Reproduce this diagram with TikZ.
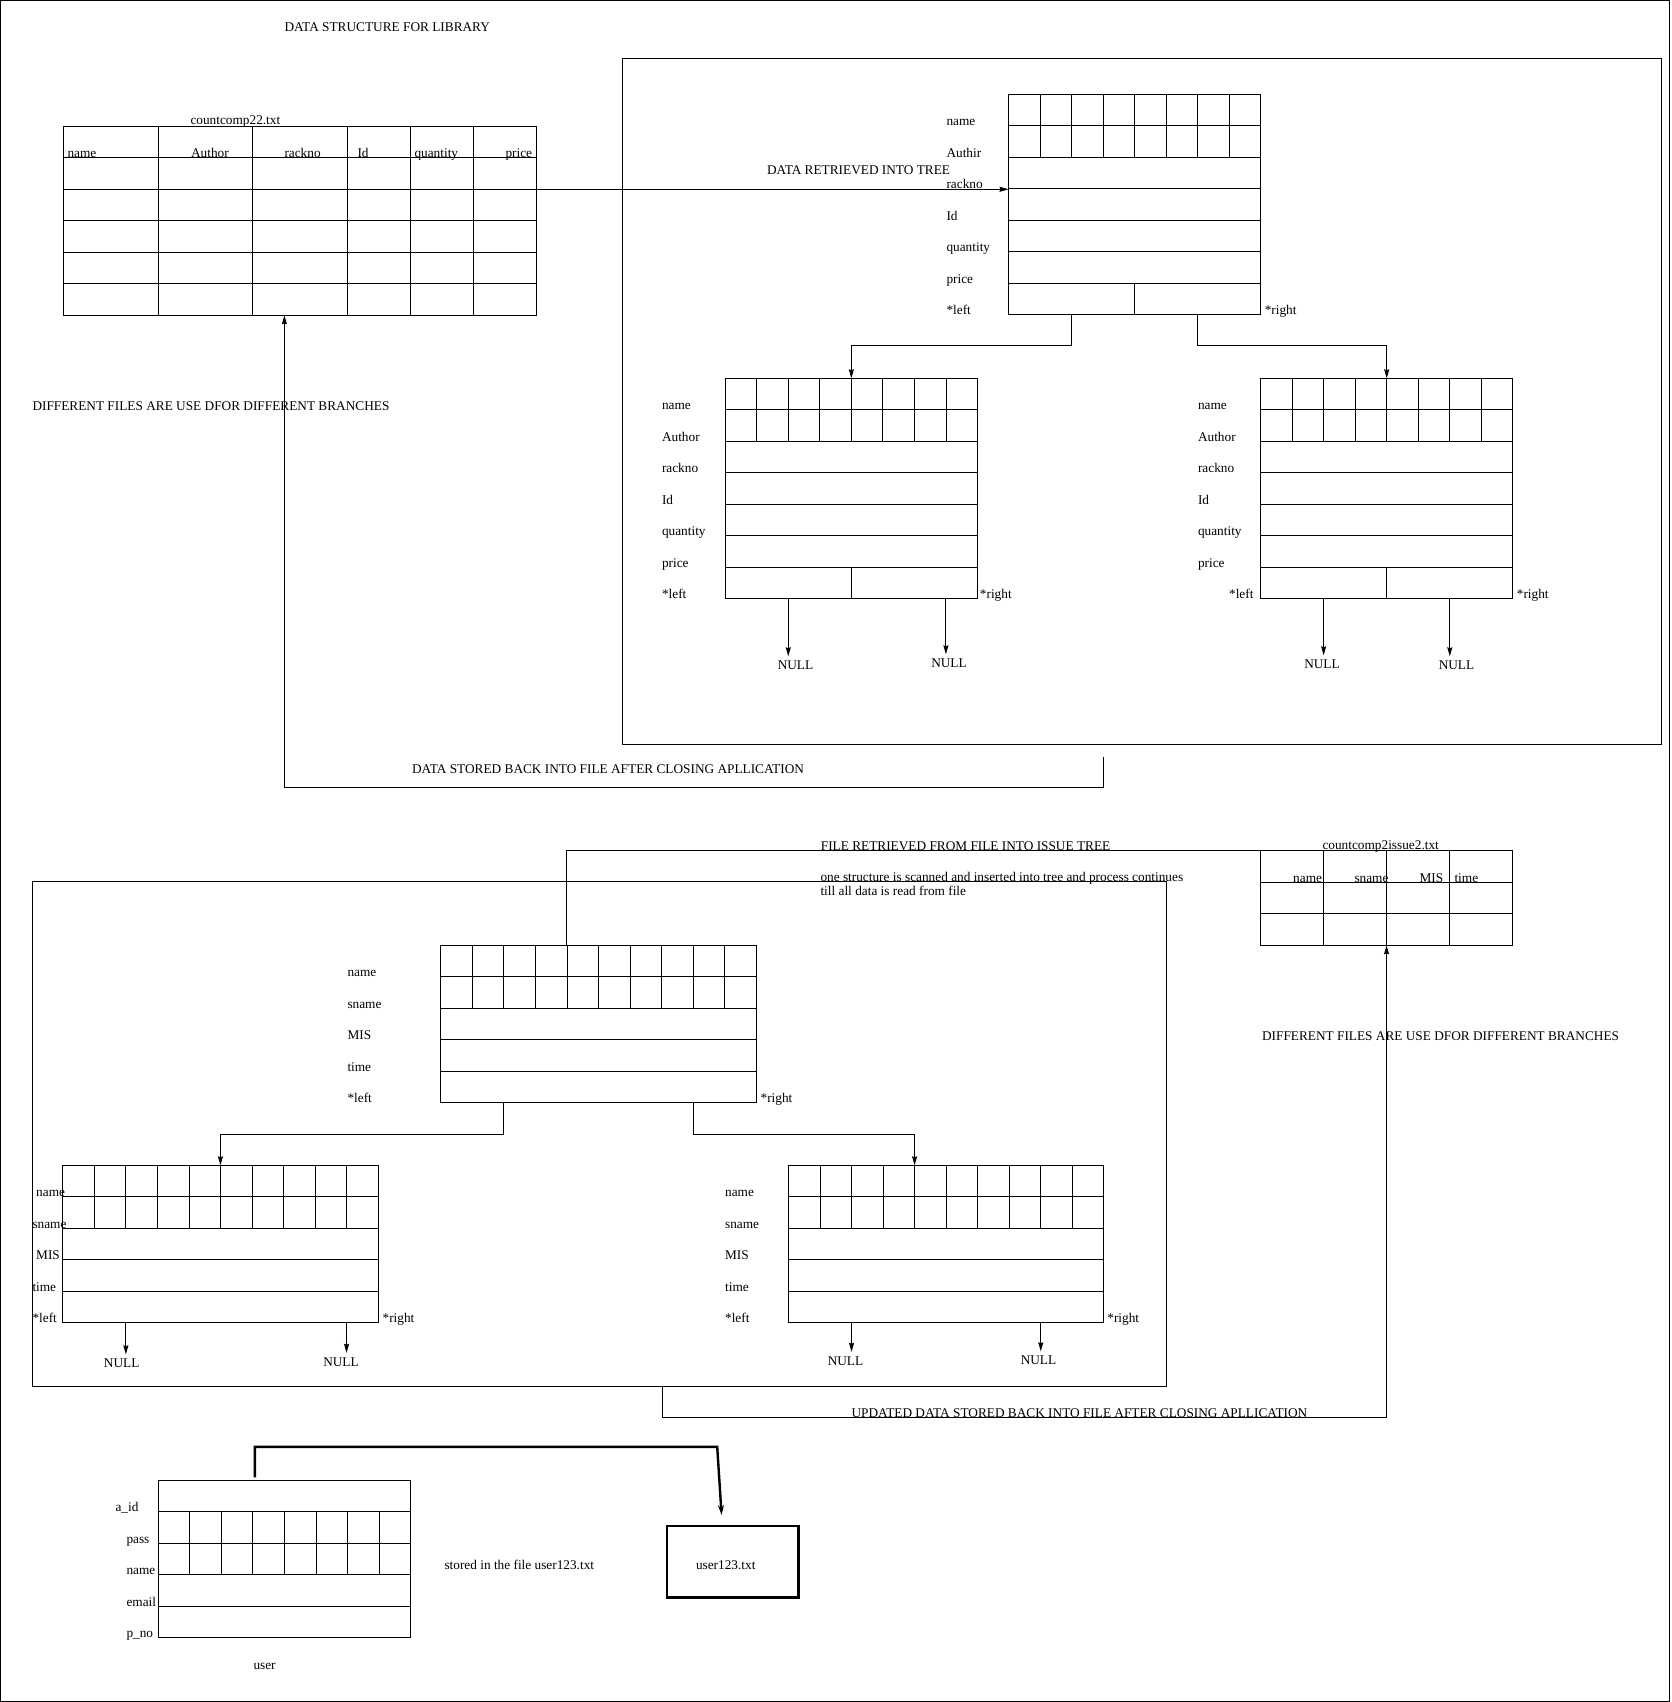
\documentclass[tikz,border=0pt]{standalone}
\usepackage{fontspec}
\setmainfont{Liberation Serif}
\usetikzlibrary{arrows.meta,calc}

% cell size of the record grids
\def\rowh{31.5}
\def\colw{31.53}

% inner lines of a record: #1 node, #2 columns, #3 rows,
% #4 rows above the cell rows, #5 number of cell rows, #6 split last row (1/0)
\newcommand{\recgrid}[6]{%
  \pgfmathtruncatemacro{\rlast}{#3-1}%
  \foreach \rowi in {1,...,\rlast}{\draw ([yshift=-\rowi*\rowh]#1.north west) -- ([yshift=-\rowi*\rowh]#1.north east);}%
  \pgfmathtruncatemacro{\clast}{#2-1}%
  \foreach \coli in {1,...,\clast}{\draw[line width=0.8pt] ([xshift=\coli*\colw,yshift=-#4*\rowh]#1.north west) -- ++(0,#5*\rowh);}%
  \ifnum#6=1 \draw ($(#1.south west)!.5!(#1.south east)$) -- ++(0,-\rowh);\fi
}

% a NULL pointer below a record: #1 record, #2 fraction along its bottom, #3 name, #4,#5 text position
\newcommand{\nullptr}[5]{%
  \node[nul] (#3) at (#4,#5) {NULL};
  \path ($(#1.south west)!#2!(#1.south east)$) coordinate (#3top);
  \draw[arr] (#3top) -- (#3top |- #3.north);
}

\begin{document}
\begin{tikzpicture}[x=1pt,y=-1pt,line width=1pt,
  every node/.style={font={\fontsize{13.3}{15}\selectfont}},
  lbl/.style={anchor=base west,inner sep=0pt},
  nul/.style={anchor=base,inner sep=4pt},
  recbox/.style={draw,anchor=north west,inner sep=0pt,outer sep=0pt},
  link/.style={line width=0.9pt},
  arr/.style={link,-{Stealth[length=9pt,width=5pt,inset=1pt]}},
  thickarr/.style={line width=2.4pt,-{Stealth[length=10pt,width=6pt]}},
]
\useasboundingbox (0,0) rectangle (1671,1702);
\draw (0.6,0.6) rectangle (1669.5,1701);

% ---------------- library part ----------------
\node[lbl] (title) at (284,31.5) {DATA STRUCTURE FOR LIBRARY};

% file table countcomp22.txt
\node[recbox,minimum width=473.4,minimum height=189] (t1) at (63.1,126.3) {};
\foreach \yy in {31.5,63,94.5,126,157.5}
  \draw ([yshift=-\yy]t1.north west) -- ([yshift=-\yy]t1.north east);
\foreach \xx in {95.7,189.5,284.4,347.1,410.3}
  \draw ([xshift=\xx]t1.north west) -- ([xshift=\xx]t1.south west);
\node[lbl] (t1name) at (190,124.5) {countcomp22.txt};
\foreach \lab/\xx in {name/67,Author/190.6,rackno/284,Id/357,quantity/414,price/505}
  \node[lbl] at (\xx,157.3) {\lab};

\node[lbl] (diff1) at (32,410) {DIFFERENT FILES ARE USE DFOR DIFFERENT BRANCHES};

% tree frame
\node[recbox,minimum width=1039.3,minimum height=685.5] (upframe) at (622,58.5) {};

% root record
\node[recbox,minimum width=8*\colw,minimum height=7*\rowh] (root) at (1008.5,94.3) {};
\recgrid{root}{8}{7}{0}{2}{1}
\foreach \lab [count=\i] in {name,Authir,rackno,Id,quantity,price,*left}
  \node[lbl] at ([xshift=-62.5,yshift=-\i*\rowh]root.north west) {\lab};
\node[lbl] at ([xshift=3.5]root.south east) {*right};
\node[lbl] (retr) at (766.5,174) {DATA RETRIEVED INTO TREE};

% left child
\node[recbox,minimum width=8*\colw,minimum height=7*\rowh] (lc) at (725.2,378.3) {};
\recgrid{lc}{8}{7}{0}{2}{1}
\foreach \lab [count=\i] in {name,Author,rackno,Id,quantity,price,*left}
  \node[lbl] at ([xshift=-63.7,yshift=-\i*\rowh]lc.north west) {\lab};
\node[lbl] at ([xshift=2]lc.south east) {*right};

% right child
\node[recbox,minimum width=8*\colw,minimum height=7*\rowh] (rc) at (1260.6,378.3) {};
\recgrid{rc}{8}{7}{0}{2}{1}
\foreach \lab [count=\i] in {name,Author,rackno,Id,quantity,price}
  \node[lbl] at ([xshift=-63.1,yshift=-\i*\rowh]rc.north west) {\lab};
\node[lbl] at ([xshift=-32]rc.south west) {*left};
\node[lbl] at ([xshift=3.5]rc.south east) {*right};

% links of the library tree
\path ($(t1.north east)!1/3!(t1.south east)$) coordinate (t1out);
\draw[arr] (t1out) -- (t1out -| root.west);
\draw[arr] ($(root.south west)!.25!(root.south east)$) -- ++(0,31) -| (lc.north);
\draw[arr] ($(root.south west)!.75!(root.south east)$) -- ++(0,31) -| (rc.north);

\nullptr{lc}{.25}{nA}{795.5}{669.5}
\nullptr{lc}{.875}{nB}{949}{667.5}
\nullptr{rc}{.25}{nC}{1322}{668.5}
\nullptr{rc}{.75}{nD}{1456.5}{669.5}

% storing back
\coordinate (sbtop) at (1103,757);
\draw[arr] (sbtop) -- ++(0,30.3) -| ($(t1.south west)+(221.3,0)$);
\node[lbl] (storeback) at (411.6,773) {DATA STORED BACK INTO FILE AFTER CLOSING APLLICATION};

% ---------------- issue part ----------------
\node[recbox,minimum width=252.3,minimum height=95] (t2) at (1260.4,850.3) {};
\foreach \yy in {32,63.3}
  \draw ([yshift=-\yy]t2.north west) -- ([yshift=-\yy]t2.north east);
\foreach \xx in {62.8,126.2,188.9}
  \draw ([xshift=\xx]t2.north west) -- ([xshift=\xx]t2.south west);
\node[lbl] (t2name) at (1322,849) {countcomp2issue2.txt};
\foreach \lab/\xx in {name/1292.7,sname/1354,MIS/1419,time/1454}
  \node[lbl] at (\xx,882.3) {\lab};

\node[lbl] (fileretr) at (820.4,850.5) {FILE RETRIEVED FROM FILE INTO ISSUE TREE};
\node[lbl] (scan1) at (820,881) {one structure is scanned and inserted into tree and process continues};
\node[lbl] (scan2) at (820,895.5) {till all data is read from file};
\node[lbl] (diff2) at (1261.6,1040.5) {DIFFERENT FILES ARE USE DFOR DIFFERENT BRANCHES};

\node[recbox,minimum width=1134.3,minimum height=504.8] (lowframe) at (32.3,881.9) {};

% issue root
\node[recbox,minimum width=10*\colw,minimum height=5*\rowh] (iroot) at (440.8,945.3) {};
\recgrid{iroot}{10}{5}{0}{2}{0}
\foreach \lab [count=\i] in {name,sname,MIS,time,*left}
  \node[lbl] at ([xshift=-93.8,yshift=-\i*\rowh]iroot.north west) {\lab};
\node[lbl] at ([xshift=4]iroot.south east) {*right};

% issue left child
\node[recbox,minimum width=10*\colw,minimum height=5*\rowh] (ilc) at (62.8,1165.3) {};
\recgrid{ilc}{10}{5}{0}{2}{0}
\foreach \lab/\dx [count=\i] in {name/-27.1,sname/-30.8,MIS/-27.1,time/-30.8,*left/-30.8}
  \node[lbl] at ([xshift=\dx,yshift=-\i*\rowh]ilc.north west) {\lab};
\node[lbl] at ([xshift=4]ilc.south east) {*right};

% issue right child
\node[recbox,minimum width=10*\colw,minimum height=5*\rowh] (irc) at (788.5,1165.3) {};
\recgrid{irc}{10}{5}{0}{2}{0}
\foreach \lab [count=\i] in {name,sname,MIS,time,*left}
  \node[lbl] at ([xshift=-63.9,yshift=-\i*\rowh]irc.north west) {\lab};
\node[lbl] at ([xshift=3.1]irc.south east) {*right};

% links of the issue tree
\draw[link] ($(iroot.north west)!.4!(iroot.north east)$) |- (t2.north west);
\draw[arr] ($(iroot.south west)!.2!(iroot.south east)$) -- ++(0,32) -| ($(ilc.north west)!.5!(ilc.north east)$);
\draw[arr] ($(iroot.south west)!.8!(iroot.south east)$) -- ++(0,32) -| ($(irc.north west)!.4!(irc.north east)$);

\nullptr{ilc}{.2}{nE}{121.7}{1367.5}
\nullptr{ilc}{.9}{nF}{341}{1366}
\nullptr{irc}{.2}{nG}{845.5}{1365}
\nullptr{irc}{.8}{nH}{1038.5}{1364.5}

\draw[arr] ($(lowframe.south west)+(629.7,0)$) -- ++(0,30.7) -| (t2.south);
\node[lbl] (update) at (851,1417.5) {UPDATED DATA STORED BACK INTO FILE AFTER CLOSING APLLICATION};

% ---------------- user part ----------------
\node[recbox,minimum width=8*\colw,minimum height=5*\rowh] (user) at (158.3,1480.3) {};
\recgrid{user}{8}{5}{1}{2}{0}
\node[lbl] at ([xshift=-43.3,yshift=-\rowh]user.north west) {a\_id};
\foreach \lab [count=\i from 2] in {pass,name,email,p\_no}
  \node[lbl] at ([xshift=-32.3,yshift=-\i*\rowh]user.north west) {\lab};
\node[lbl] (usercap) at (253,1669) {user};

\node[lbl] (stored) at (444,1569) {stored in the file user123.txt};
\node[recbox,line width=2.4pt,minimum width=131.7,minimum height=71.6] (ufile) at (666.8,1525.7) {};
\node[lbl] (ufiletext) at (695.5,1569) {user123.txt};

\draw[thickarr] ($(user.north west)+(96.5,-3)$) -- ++(0,-30.5) -- ++(462.4,0) -- ($(ufile.north west)+(54.8,-10.7)$);
\end{tikzpicture}
\end{document}
